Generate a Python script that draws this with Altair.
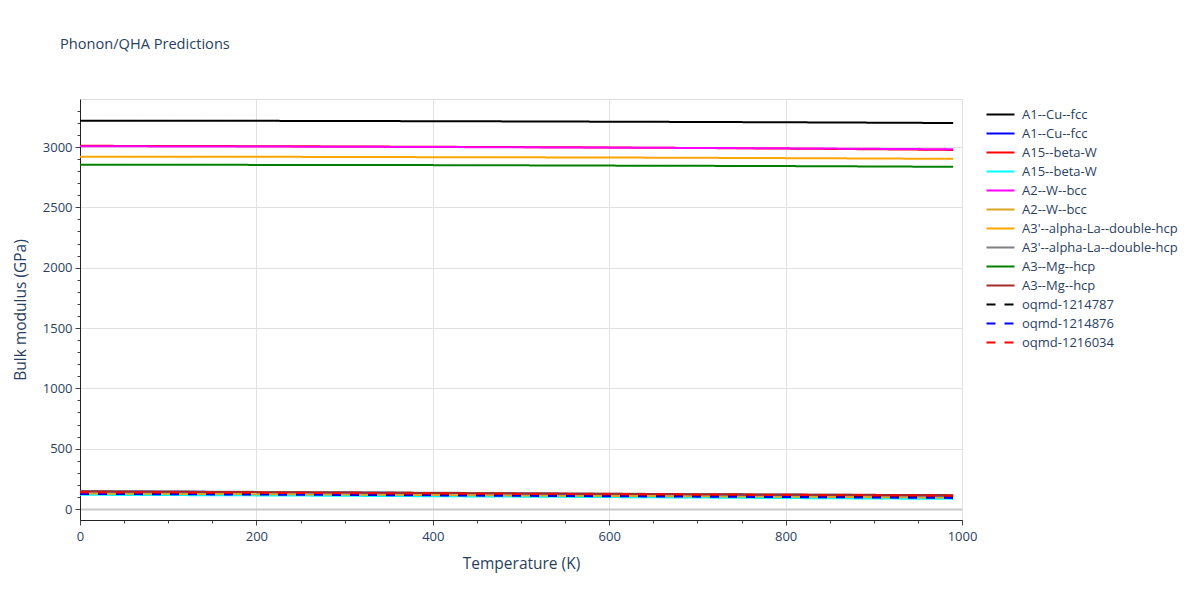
import altair as alt
import pandas as pd

temps = [0, 200, 400, 600, 800, 990]

names = [
    "A1--Cu--fcc", "A1--Cu--fcc", "A15--beta-W", "A15--beta-W",
    "A2--W--bcc", "A2--W--bcc", "A3'--alpha-La--double-hcp", "A3'--alpha-La--double-hcp",
    "A3--Mg--hcp", "A3--Mg--hcp", "oqmd-1214787", "oqmd-1214876", "oqmd-1216034",
]
colors = ["black", "blue", "red", "cyan", "magenta", "goldenrod", "orange",
          "gray", "green", "brown", "black", "blue", "red"]
dashed = [False] * 10 + [True] * 3

values = [
    [3218, 3217, 3214, 3210, 3205, 3199],
    [147, 140, 132, 123, 115, 108],
    [3010, 3007, 3002, 2996, 2987, 2976],
    [118, 113, 106, 99, 91, 84],
    [3006, 3004, 3000, 2995, 2989, 2981],
    [128, 123, 116, 109, 102, 95],
    [2920, 2919, 2916, 2913, 2908, 2902],
    [148, 142, 135, 127, 120, 113],
    [2853, 2852, 2850, 2846, 2842, 2836],
    [145, 140, 133, 126, 120, 115],
    [130, 126, 120, 113, 106, 100],
    [125, 120, 113, 106, 99, 92],
    [138, 134, 128, 122, 116, 110],
]

keys = [f"{i:02d}|{n}" for i, n in enumerate(names)]
rows = []
for k, vals in zip(keys, values):
    for t, v in zip(temps, vals):
        rows.append({"key": k, "T": t, "B": v})
df = pd.DataFrame(rows)

FONT = "Open Sans"
TXT = "#2a3f5f"

xscale = alt.Scale(domain=[0, 1000], nice=False, zero=False)
yscale = alt.Scale(domain=[-91, 3398], nice=False, zero=False)

legend = alt.Legend(
    title=None, orient="none", legendX=914, legendY=9, padding=0,
    symbolType="M-2.8,0H2.8", symbolSize=100, symbolStrokeWidth=2,
    labelOffset=15, rowPadding=5, labelFont=FONT, labelFontSize=13,
    labelColor=TXT, labelExpr="split(datum.label, '|')[1]", labelLimit=300,
)

base = alt.Chart(df)

minor = base.mark_line(strokeOpacity=0).encode(
    x=alt.X("T:Q", scale=xscale, axis=alt.Axis(
        orient="bottom", values=list(range(0, 1001, 50)), labels=False, grid=False,
        domain=False, tickSize=3, tickColor="#444", title=None)),
    y=alt.Y("B:Q", scale=yscale, axis=alt.Axis(
        orient="left", values=list(range(0, 3301, 100)), labels=False, grid=False,
        domain=False, tickSize=3, tickColor="#444", title=None)),
    detail="key:N",
)

grid_color = {"condition": {"test": "datum.value === 0", "value": "#c8c8c8"}, "value": "#e2e2e2"}
grid_width = {"condition": {"test": "datum.value === 0", "value": 2}, "value": 1}

lines = base.mark_line(strokeWidth=2, interpolate="monotone").encode(
    x=alt.X("T:Q", scale=xscale, axis=alt.Axis(
        orient="bottom", values=list(range(0, 1001, 200)), grid=True, format="d",
        labelFlush=False,
        gridColor="#e2e2e2", domainColor="#222", tickColor="#444", tickSize=5,
        labelFont=FONT, labelFontSize=13, labelColor=TXT, labelPadding=5,
        title="Temperature (K)", titleFont=FONT, titleFontSize=15.5,
        titleColor=TXT, titleFontWeight="normal", titlePadding=13)),
    y=alt.Y("B:Q", scale=yscale, axis=alt.Axis(
        orient="left", values=list(range(0, 3001, 500)), grid=True, format="d",
        gridColor=grid_color, gridWidth=grid_width,
        domainColor="#222", tickColor="#444", tickSize=5,
        labelFont=FONT, labelFontSize=13, labelColor=TXT, labelPadding=3,
        title="Bulk modulus (GPa)", titleFont=FONT, titleFontSize=15.5,
        titleColor=TXT, titleFontWeight="normal", titlePadding=14)),
    color=alt.Color("key:N", scale=alt.Scale(domain=keys, range=colors), legend=legend),
    strokeDash=alt.StrokeDash("key:N", scale=alt.Scale(
        domain=keys, range=[[9, 9] if d else [1, 0] for d in dashed]), legend=legend),
)

chart = alt.layer(minor, lines).resolve_axis(x="independent", y="independent").properties(
    width=882, height=421,
    title=alt.TitleParams("Phonon/QHA Predictions", anchor="start", frame="group",
                          dx=-20, offset=47, font=FONT, fontSize=14.6,
                          fontWeight="normal", color=TXT),
    autosize=alt.AutoSizeParams(type="none"),
    padding={"left": 72, "top": 91, "right": 230, "bottom": 72},
).configure_view(stroke=None).configure(background="white")

chart.save("out.html", embed_options={"renderer": "svg", "actions": False})
